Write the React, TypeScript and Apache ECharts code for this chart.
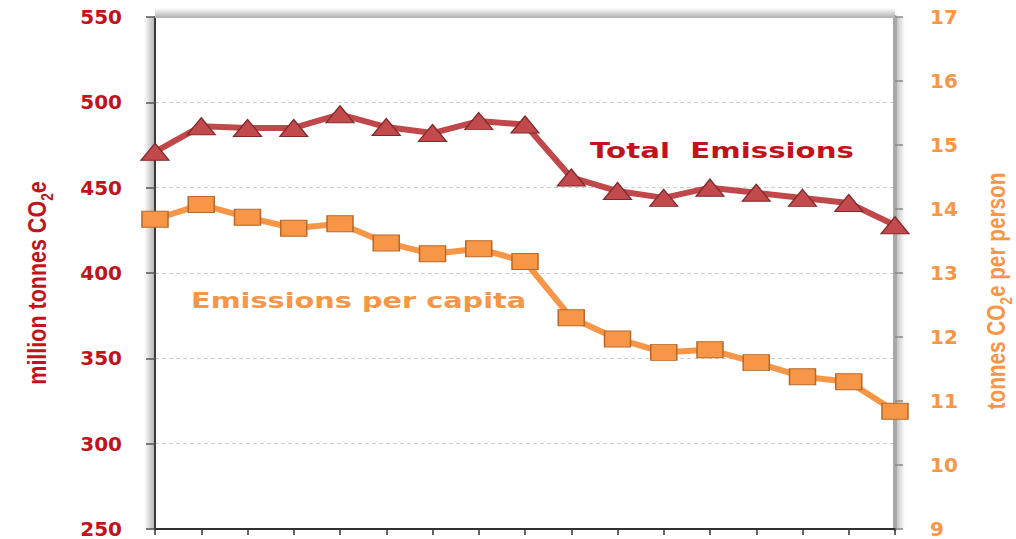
import React, { useEffect, useRef } from "react";
import * as echarts from "echarts";

// Years covered by the inventory (one point per year)
const years = [
  "2000", "2001", "2002", "2003", "2004", "2005", "2006", "2007", "2008",
  "2009", "2010", "2011", "2012", "2013", "2014", "2015", "2016",
];

// Total emissions, million tonnes CO2e (left axis)
const totalEmissions = [
  471, 486, 485, 485, 493, 485.5, 482, 489, 487, 456, 448, 444, 450, 447, 444, 441, 428,
];

// Emissions per capita, tonnes CO2e per person (right axis)
const perCapita = [
  13.84, 14.07, 13.87, 13.7, 13.77, 13.47, 13.3, 13.38, 13.18, 12.3, 11.97, 11.76, 11.8,
  11.6, 11.38, 11.3, 10.84,
];

const RED = "#c0141c";
const LINE_RED = "#c0474a";
const ORANGE = "#f79646";

const GRID = { left: 155, right: 121, top: 17, bottom: 9 };
const W = 1016;
const H = 539;

export default function App() {
  const ref = useRef<HTMLDivElement>(null);

  useEffect(() => {
    if (!ref.current) return;
    const chart = echarts.init(ref.current, null, { renderer: "svg" });

    const axisFont = "DejaVu Sans";
    const nameFont = "'Liberation Sans', Arial, sans-serif";
    const plotRight = W - GRID.right;
    const plotBottom = H - GRID.bottom;

    const fade = (x0: number, y0: number, x1: number, y1: number, c: string) =>
      new echarts.graphic.LinearGradient(x0, y0, x1, y1, [
        { offset: 0, color: "rgba(0,0,0,0)" },
        { offset: 1, color: c },
      ]);

    chart.setOption({
      animation: false,
      backgroundColor: "#ffffff",
      grid: { ...GRID, containLabel: false },
      xAxis: [
        {
          type: "category",
          data: years,
          boundaryGap: false,
          position: "bottom",
          axisLine: { lineStyle: { color: "#303030", width: 2 } },
          axisTick: {
            show: true,
            inside: false,
            length: 6,
            alignWithLabel: true,
            lineStyle: { color: "#303030", width: 1.5 },
          },
          axisLabel: { show: false },
          splitLine: { show: false },
        },
        {
          type: "category",
          data: years,
          boundaryGap: false,
          position: "top",
          axisLine: { lineStyle: { color: "#b8b8b8", width: 2 } },
          axisTick: { show: false },
          axisLabel: { show: false },
          splitLine: { show: false },
        },
      ],
      yAxis: [
        {
          type: "value",
          min: 250,
          max: 550,
          interval: 50,
          position: "left",
          axisLine: { show: true, lineStyle: { color: "#3a3a3a", width: 2 } },
          axisTick: {
            show: true,
            inside: false,
            length: 9,
            lineStyle: { color: "#555555", width: 1.5 },
          },
          axisLabel: {
            color: RED,
            fontFamily: axisFont,
            fontWeight: "bold",
            fontSize: 20,
            lineHeight: 16,
            margin: 33,
          },
          splitLine: {
            show: true,
            showMinLine: false,
            showMaxLine: false,
            lineStyle: { color: "#cfcfcf", type: [4, 3], width: 1 },
          },
        },
        {
          type: "value",
          min: 9,
          max: 17,
          interval: 1,
          position: "right",
          axisLine: { show: true, lineStyle: { color: "#a8a8a8", width: 4 } },
          axisTick: {
            show: true,
            inside: false,
            length: 8,
            lineStyle: { color: "#8a8a8a", width: 1.5 },
          },
          axisLabel: {
            color: ORANGE,
            fontFamily: axisFont,
            fontWeight: "bold",
            fontSize: 20,
            lineHeight: 16,
            margin: 35,
          },
          splitLine: { show: false },
        },
      ],
      series: [
        {
          name: "Emissions per capita",
          type: "line",
          yAxisIndex: 1,
          data: perCapita,
          symbol: "rect",
          symbolSize: [26, 16],
          lineStyle: { color: ORANGE, width: 6 },
          itemStyle: { color: ORANGE, borderColor: "#b8682a", borderWidth: 1.2 },
          z: 3,
        },
        {
          name: "Total Emissions",
          type: "line",
          yAxisIndex: 0,
          data: totalEmissions,
          symbol: "triangle",
          symbolSize: [28, 17],
          lineStyle: { color: LINE_RED, width: 6 },
          itemStyle: { color: "#c24a4c", borderColor: "#7e2a2a", borderWidth: 1.2 },
          z: 4,
        },
      ],
      graphic: [
        // soft shading beside the plot frame
        {
          type: "rect",
          silent: true,
          z: 0,
          shape: { x: GRID.left - 11, y: GRID.top, width: 10, height: plotBottom - GRID.top },
          style: { fill: fade(0, 0, 1, 0, "rgba(0,0,0,0.28)") },
        },
        {
          type: "rect",
          silent: true,
          z: 0,
          shape: { x: plotRight + 1, y: GRID.top, width: 9, height: plotBottom - GRID.top },
          style: { fill: fade(1, 0, 0, 0, "rgba(0,0,0,0.25)") },
        },
        {
          type: "rect",
          silent: true,
          z: 0,
          shape: { x: GRID.left, y: GRID.top - 9, width: plotRight - GRID.left, height: 8 },
          style: { fill: fade(0, 0, 0, 1, "rgba(0,0,0,0.25)") },
        },
        {
          type: "text",
          x: 590,
          y: 150,
          scaleX: 1.33,
          style: {
            text: "Total  Emissions",
            fill: RED,
            font: `bold 22px ${axisFont}`,
            align: "left",
            verticalAlign: "middle",
          },
          z: 10,
        },
        {
          type: "text",
          x: 191,
          y: 301,
          scaleX: 1.37,
          style: {
            text: "Emissions per capita",
            fill: ORANGE,
            font: `bold 21px ${axisFont}`,
            align: "left",
            verticalAlign: "middle",
          },
          z: 10,
        },
        {
          type: "text",
          x: 37,
          y: 283,
          rotation: Math.PI / 2,
          scaleX: 0.86,
          style: {
            text: "million tonnes CO{s|2}e",
            fill: RED,
            fontFamily: nameFont,
            fontWeight: "bold",
            fontSize: 25,
            align: "center",
            verticalAlign: "middle",
            rich: {
              s: {
                fontFamily: nameFont,
                fontWeight: "bold",
                fontSize: 16,
                fill: RED,
                verticalAlign: "bottom",
                padding: [0, 0, -6, 0],
              },
            },
          },
        },
        {
          type: "text",
          x: 996,
          y: 291,
          rotation: Math.PI / 2,
          scaleX: 0.83,
          style: {
            text: "tonnes CO{s|2}e per person",
            fill: ORANGE,
            fontFamily: nameFont,
            fontWeight: "bold",
            fontSize: 25,
            align: "center",
            verticalAlign: "middle",
            rich: {
              s: {
                fontFamily: nameFont,
                fontWeight: "bold",
                fontSize: 16,
                fill: ORANGE,
                verticalAlign: "bottom",
                padding: [0, 0, -6, 0],
              },
            },
          },
        },
      ],
    });

    return () => chart.dispose();
  }, []);

  return (
    <div
      ref={ref}
      style={{ position: "absolute", left: 0, top: 0, width: W, height: H }}
    />
  );
}
